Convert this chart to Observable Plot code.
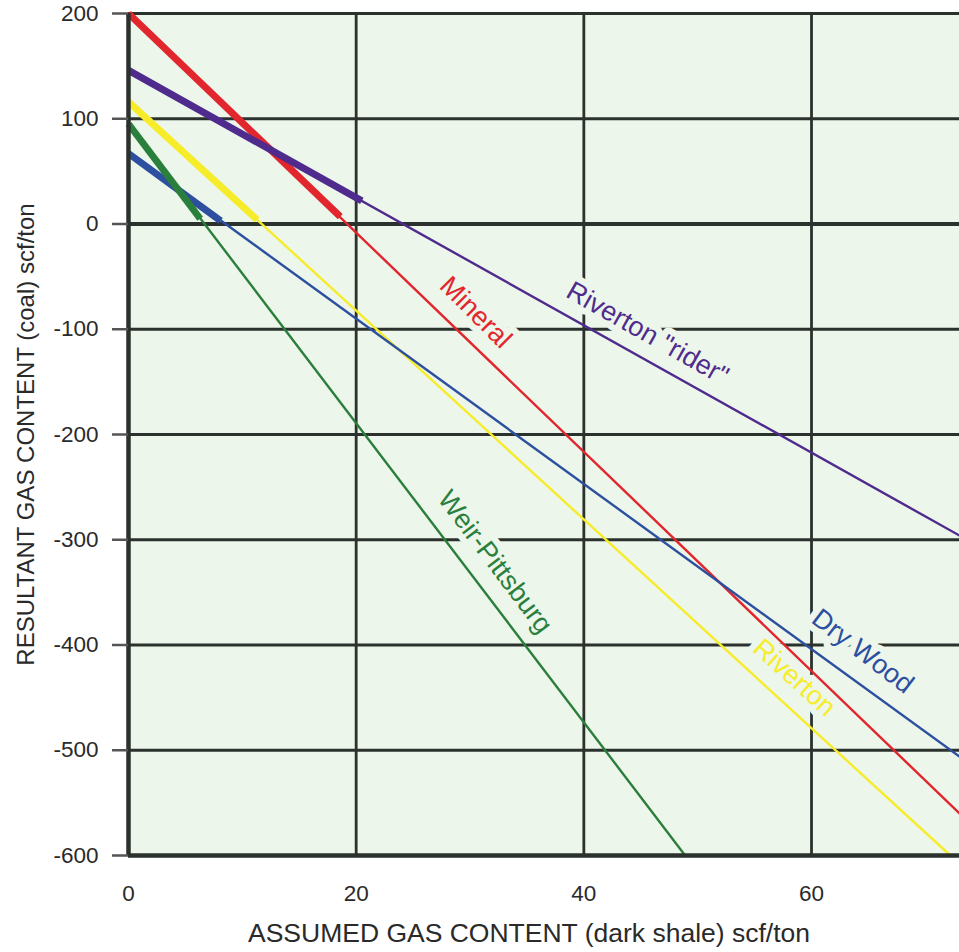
<!DOCTYPE html>
<html>
<head>
<meta charset="utf-8">
<script src="https://cdn.jsdelivr.net/npm/d3@7"></script>
<script src="https://cdn.jsdelivr.net/npm/@observablehq/plot@0.6"></script>
<style>
  html, body { margin: 0; padding: 0; background: #ffffff; }
  #chart svg { display: block; }
</style>
</head>
<body>
<div id="chart"></div>
<script>
// Coal seams and their resultant gas-content lines
const seams      = ["Mineral", "Riverton \"rider\"", "Riverton", "Dry Wood", "Weir-Pittsburg"];
const seamColors = ["#e1262d", "#4f2b8d", "#f6ec2a", "#2c4fa0", "#2a7f3c"];

// Each line runs from its intercept at x = 0 to its end point
const startX = [0, 0, 0, 0, 0];
const startY = [200, 146, 116, 67, 95];
const endX   = [73, 73, 72.2, 73, 48.9];
const endY   = [-560, -296, -600, -506, -600];

// Heavy segment at the start of each line (positive resultant range)
const heavyEndX = [18.6, 20.5, 11.3, 8.1, 6.3];
const heavyEndY = [7, 22, 4, 3, 5];

// Label anchor points and angles along each line
const labelX     = [30.5, 45.6, 58.5, 64.5, 32.2];
const labelY     = [-84, -104, -431, -406, -321];
const labelAngle = [45, 29.5, 42, 37.5, 53];

// Axis ticks
const xTicks = [0, 20, 40, 60];
const yTicks = [-600, -500, -400, -300, -200, -100, 0, 100, 200];

const xTitle = "ASSUMED GAS CONTENT (dark shale) scf/ton";
const yTitle = "RESULTANT GAS CONTENT (coal) scf/ton";

const lines = seams.flatMap((s, i) => [
  {seam: s, x: startX[i], y: startY[i]},
  {seam: s, x: endX[i], y: endY[i]}
]);
const heavy = seams.flatMap((s, i) => [
  {seam: s, x: startX[i], y: startY[i]},
  {seam: s, x: heavyEndX[i], y: heavyEndY[i]}
]);
const labels = seams.map((s, i) => ({seam: s, x: labelX[i], y: labelY[i], angle: labelAngle[i]}));

const gridColor = "#2b312c";
const panelFill = "#edf6eb";
const font = "'Liberation Sans', Arial, Helvetica, sans-serif";

const chart = Plot.plot({
  width: 959,
  height: 952,
  marginLeft: 128,
  marginTop: 13,
  marginRight: 0,
  marginBottom: 97,
  style: {background: "#ffffff", fontFamily: font, color: "#2a2a2a"},
  x: {domain: [0, 73]},
  y: {domain: [-600, 200]},
  color: {domain: seams, range: seamColors},
  marks: [
    Plot.frame({fill: panelFill, stroke: null}),
    Plot.ruleX(xTicks.filter(d => d !== 0), {x: d => d, stroke: gridColor, strokeWidth: 2.8}),
    Plot.ruleY(yTicks.filter(d => d !== -600 && d !== 0), {y: d => d, stroke: gridColor, strokeWidth: 2.8}),
    Plot.ruleY([0], {stroke: gridColor, strokeWidth: 3.8}),
    // knock-out halo behind the seam labels, breaking the grid lines
    Plot.text(labels, {
      x: "x", y: "y", text: "seam", rotate: "angle", textAnchor: "middle",
      fontSize: 27, fill: panelFill, stroke: panelFill, strokeWidth: 13, strokeLinejoin: "round"
    }),
    Plot.line(lines, {x: "x", y: "y", z: "seam", stroke: "seam", strokeWidth: 2.4}),
    Plot.line(heavy, {x: "x", y: "y", z: "seam", stroke: "seam", strokeWidth: 7, strokeLinecap: "butt"}),
    Plot.text(labels, {
      x: "x", y: "y", text: "seam", rotate: "angle", fill: "seam",
      fontSize: 27, textAnchor: "middle"
    }),
    Plot.ruleX([0], {stroke: gridColor, strokeWidth: 4.5}),
    Plot.ruleY([-600], {stroke: gridColor, strokeWidth: 4.5}),
    Plot.axisY({
      ticks: yTicks, tickSize: 16, tickPadding: 14, tickFormat: d => String(d),
      fontSize: 22.5, label: null, stroke: "#555", strokeWidth: 2.5, color: "#2a2a2a"
    }),
    Plot.axisX({
      ticks: xTicks, tickSize: 0, tickPadding: 30, tickFormat: d => String(d),
      fontSize: 22.5, label: null, color: "#2a2a2a"
    }),
    Plot.text([xTitle], {frameAnchor: "bottom", dx: -15, dy: 86, fontSize: 26.5, fill: "#2a2a2a"}),
    Plot.text([yTitle], {frameAnchor: "left", textAnchor: "middle", rotate: -90, dx: -102, fontSize: 24, fill: "#2a2a2a"})
  ]
});

document.getElementById("chart").appendChild(chart);
</script>
</body>
</html>
